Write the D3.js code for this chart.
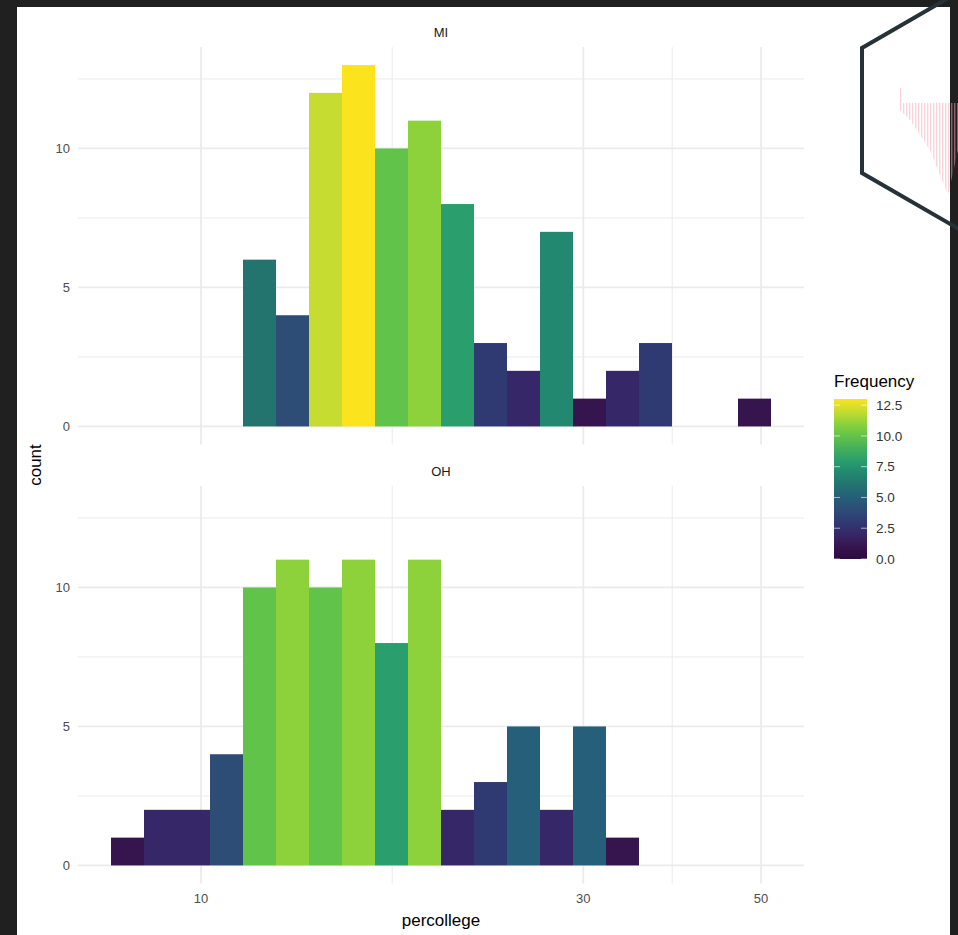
<!DOCTYPE html>
<html>
<head>
<meta charset="utf-8">
<script src="https://cdn.jsdelivr.net/npm/d3@7"></script>
<style>
  body { margin: 0; background: #202020; }
  text { font-family: "Liberation Sans", Arial, sans-serif; }
</style>
</head>
<body>
<div id="chart"></div>
<script>
// histogram of percollege, 20 bins equal in log space
var states = ["MI", "OH"];
var binCount = 20;
var binLow = 7.72, binHigh = 51.45;
var countsMI = [0, 0, 0, 0, 6, 4, 12, 13, 10, 11, 8, 3, 2, 7, 1, 2, 3, 0, 0, 1];
var countsOH = [1, 2, 2, 4, 10, 11, 10, 11, 8, 11, 2, 3, 5, 2, 5, 1, 0, 0, 0, 0];
var xTicks = [10, 30, 50];
var yTicks = [0, 5, 10];
var yMinor = [2.5, 7.5, 12.5];
var legendTicks = [0, 2.5, 5, 7.5, 10, 12.5];
// viridis as it shows up in the picture, one stop per count 0..13
var palette = ["#2c0a42", "#36154e", "#362768", "#2f3a72", "#2d4d77", "#255f79", "#23736f",
  "#228870", "#2a9e6d", "#45b05a", "#62c34a", "#8dd23b", "#c6dc30", "#fbe31e"];

var W = 958, H = 935;
var panelLeft = 78, panelRight = 804;
var panels = [
  { name: "MI", counts: countsMI, top: 47, bottom: 444.5, strip: 37 },
  { name: "OH", counts: countsOH, top: 486, bottom: 883.5, strip: 476 }
];

var svg = d3.select("#chart").append("svg").attr("width", W).attr("height", H);

// screenshot frame
svg.append("rect").attr("width", W).attr("height", H).attr("fill", "#202020");
svg.append("rect").attr("x", 17).attr("y", 7).attr("width", 933).attr("height", 928).attr("fill", "#ffffff");

var lg0 = Math.log10(binLow), lg1 = Math.log10(binHigh);
var edges = d3.range(binCount + 1).map(i => Math.pow(10, lg0 + (i * (lg1 - lg0)) / binCount));
var pad = (lg1 - lg0) * 0.05;

var x = d3.scaleLog()
  .domain([Math.pow(10, lg0 - pad), Math.pow(10, lg1 + pad)])
  .range([panelLeft, panelRight]);

var yMax = d3.max(countsMI.concat(countsOH));
var color = d3.scaleLinear()
  .domain(d3.range(palette.length).map(i => (i * yMax) / (palette.length - 1)))
  .range(palette)
  .clamp(true);

var xMinor = d3.pairs(xTicks).map(p => Math.sqrt(p[0] * p[1]));

panels.forEach(function (p) {
  var y = d3.scaleLinear()
    .domain([-yMax * 0.05, yMax * 1.05])
    .range([p.bottom, p.top]);
  var g = svg.append("g");

  // minor grid
  g.selectAll(".ymin").data(yMinor).join("line")
    .attr("x1", panelLeft).attr("x2", panelRight)
    .attr("y1", d => y(d)).attr("y2", d => y(d))
    .attr("stroke", "#ebebeb").attr("stroke-width", 1);
  g.selectAll(".xmin").data(xMinor).join("line")
    .attr("x1", d => x(d)).attr("x2", d => x(d))
    .attr("y1", p.top).attr("y2", p.bottom)
    .attr("stroke", "#ebebeb").attr("stroke-width", 1);
  // major grid
  g.selectAll(".ymaj").data(yTicks).join("line")
    .attr("x1", panelLeft).attr("x2", panelRight)
    .attr("y1", d => y(d)).attr("y2", d => y(d))
    .attr("stroke", "#ebebeb").attr("stroke-width", 1.8);
  g.selectAll(".xmaj").data(xTicks).join("line")
    .attr("x1", d => x(d)).attr("x2", d => x(d))
    .attr("y1", p.top).attr("y2", p.bottom)
    .attr("stroke", "#ebebeb").attr("stroke-width", 1.8);

  // bars
  var bars = p.counts.map((c, i) => ({ x0: edges[i], x1: edges[i + 1], count: c }))
    .filter(d => d.count > 0);
  g.selectAll(".bar").data(bars).join("rect")
    .attr("x", d => x(d.x0))
    .attr("width", d => x(d.x1) - x(d.x0))
    .attr("y", d => y(d.count))
    .attr("height", d => y(0) - y(d.count))
    .attr("fill", d => color(d.count));

  // y tick labels
  g.selectAll(".ylab").data(yTicks).join("text")
    .attr("x", 70).attr("y", d => y(d))
    .attr("dy", "0.35em").attr("text-anchor", "end")
    .attr("font-size", 13).attr("fill", "#4d4d4d")
    .text(d => d);

  // strip label
  g.append("text")
    .attr("x", (panelLeft + panelRight) / 2).attr("y", p.strip)
    .attr("text-anchor", "middle").attr("font-size", 13).attr("fill", "#1a1a1a")
    .text(p.name);
});

// x tick labels
svg.selectAll(".xlab").data(xTicks).join("text")
  .attr("x", d => x(d)).attr("y", 903)
  .attr("text-anchor", "middle").attr("font-size", 13).attr("fill", "#4d4d4d")
  .text(d => d);

// axis titles
svg.append("text")
  .attr("x", (panelLeft + panelRight) / 2).attr("y", 926)
  .attr("text-anchor", "middle").attr("font-size", 17).attr("fill", "#000")
  .text("percollege");
svg.append("text")
  .attr("transform", "translate(41,465) rotate(-90)")
  .attr("text-anchor", "middle").attr("font-size", 17).attr("fill", "#000")
  .text("count");

// legend
var lx = 834, lw = 33, lTop = 399, lBottom = 559;
var ly = d3.scaleLinear().domain([0, yMax]).range([lBottom, lTop]);
var defs = svg.append("defs");
var grad = defs.append("linearGradient")
  .attr("id", "vir").attr("x1", 0).attr("y1", 1).attr("x2", 0).attr("y2", 0);
palette.forEach((c, i) => {
  grad.append("stop").attr("offset", i / (palette.length - 1)).attr("stop-color", c);
});
svg.append("text").attr("x", lx).attr("y", 387)
  .attr("font-size", 17).attr("fill", "#000").text("Frequency");
svg.append("rect").attr("x", lx).attr("y", lTop).attr("width", lw)
  .attr("height", lBottom - lTop).attr("fill", "url(#vir)");
var lt = svg.append("g");
lt.selectAll(".tl").data(legendTicks).join("line")
  .attr("x1", lx).attr("x2", lx + 6).attr("y1", d => ly(d)).attr("y2", d => ly(d))
  .attr("stroke", "#ffffff").attr("stroke-opacity", 0.6);
lt.selectAll(".tr").data(legendTicks).join("line")
  .attr("x1", lx + lw - 6).attr("x2", lx + lw).attr("y1", d => ly(d)).attr("y2", d => ly(d))
  .attr("stroke", "#ffffff").attr("stroke-opacity", 0.6);
lt.selectAll(".tt").data(legendTicks).join("text")
  .attr("x", lx + lw + 9).attr("y", d => ly(d)).attr("dy", "0.35em")
  .attr("font-size", 13.5).attr("fill", "#333").text(d => d3.format(".1f")(d));

// hexagon badge overlapping the corner
var hex = [[862, 48], [862, 173], [970, 235.5], [1078, 173], [1078, 48], [970, -14.5]];
var stripes = defs.append("pattern").attr("id", "stripes")
  .attr("patternUnits", "userSpaceOnUse").attr("width", 3).attr("height", 10);
stripes.append("rect").attr("width", 1.4).attr("height", 10).attr("fill", "#f3a9b8");
svg.append("clipPath").attr("id", "hexclip").append("polygon")
  .attr("points", hex.map(d => d.join(",")).join(" "));
var hg = svg.append("g").attr("clip-path", "url(#hexclip)");
hg.append("path")
  .attr("d", "M899,88 L901,88 L903,103 L958,103 L958,150 L948,195 L944,185 L930,150 L910,120 L900,110 Z")
  .attr("fill", "url(#stripes)").attr("opacity", 0.5);
svg.append("polygon")
  .attr("points", hex.map(d => d.join(",")).join(" "))
  .attr("fill", "none").attr("stroke", "#263238").attr("stroke-width", 4);
</script>
</body>
</html>
